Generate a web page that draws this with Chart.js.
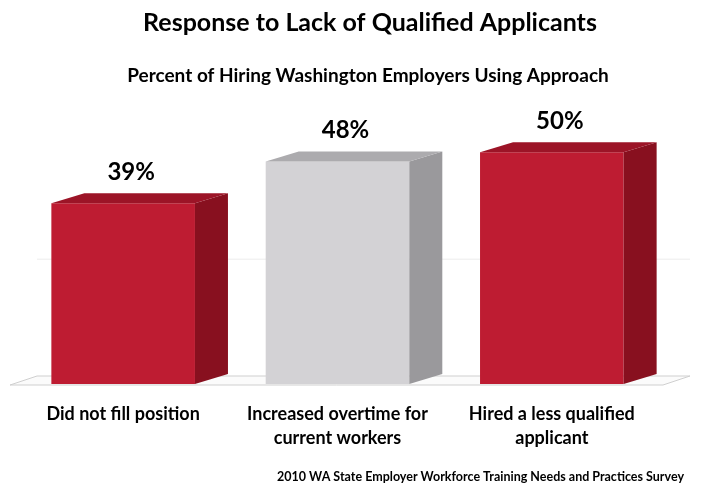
<!DOCTYPE html>
<html>
<head>
<meta charset="utf-8">
<script src="https://cdn.jsdelivr.net/npm/chart.js@4"></script>
<style>
  body { margin: 0; background: #fff; }
  #wrap { width: 702px; height: 485px; }
</style>
</head>
<body>
<div id="wrap"><canvas id="grafico"></canvas></div>
<script>
const categorias = [
    'Did not fill position',
    ['Increased overtime for', 'current workers'],
    ['Hired a less qualified', 'applicant']
];
const porcentajes = [39, 48, 50];
const coloresFrente = ['#be1c32', '#d3d2d5', '#be1c32'];
const coloresLado = ['#88101f', '#9a999c', '#88101f'];
const coloresTapa = ['#9c1427', '#acabae', '#9c1427'];
const titulo = 'Response to Lack of Qualified Applicants';
const subtitulo = 'Percent of Hiring Washington Employers Using Approach';
const fuenteNota = '2010 WA State Employer Workforce Training Needs and Practices Survey';
const fuente = 'Lato, "Open Sans", sans-serif';

// profundidad del efecto 3D
const DX = 33, DY = -10;

const barras3d = {
    id: 'barras3d',
    beforeDatasetsDraw(chart) {
        const ctx = chart.ctx;
        const area = chart.chartArea;
        const yEje = chart.scales.y;
        ctx.save();
        // piso
        ctx.beginPath();
        ctx.moveTo(area.left - 6, area.bottom + 1);
        ctx.lineTo(area.right + 4, area.bottom + 1);
        ctx.lineTo(area.right + 31, area.bottom - 8);
        ctx.lineTo(area.left + 21, area.bottom - 8);
        ctx.closePath();
        ctx.fillStyle = '#fbfbfb';
        ctx.fill();
        ctx.strokeStyle = '#cfcfcf';
        ctx.lineWidth = 1;
        ctx.stroke();
        // linea de cuadricula tenue en la pared del fondo
        const yg = yEje.getPixelForValue(25) + DY + 1;
        ctx.beginPath();
        ctx.moveTo(area.left + 21, yg);
        ctx.lineTo(area.right + 31, yg);
        ctx.strokeStyle = '#ececec';
        ctx.stroke();
        ctx.restore();
    },
    afterDatasetsDraw(chart) {
        const ctx = chart.ctx;
        const meta = chart.getDatasetMeta(0);
        ctx.save();
        meta.data.forEach(function(barra, i) {
            const izq = barra.x - barra.width / 2;
            const der = barra.x + barra.width / 2;
            const arriba = barra.y;
            const base = barra.base;
            // lado derecho
            ctx.beginPath();
            ctx.moveTo(der, arriba);
            ctx.lineTo(der + DX, arriba + DY);
            ctx.lineTo(der + DX, base + DY);
            ctx.lineTo(der, base);
            ctx.closePath();
            ctx.fillStyle = coloresLado[i];
            ctx.fill();
            // tapa
            ctx.beginPath();
            ctx.moveTo(izq, arriba);
            ctx.lineTo(izq + DX, arriba + DY);
            ctx.lineTo(der + DX, arriba + DY);
            ctx.lineTo(der, arriba);
            ctx.closePath();
            ctx.fillStyle = coloresTapa[i];
            ctx.fill();
            // etiqueta del valor
            ctx.fillStyle = '#000';
            ctx.font = 'bold 24px ' + fuente;
            ctx.textAlign = 'center';
            ctx.textBaseline = 'middle';
            ctx.fillText(porcentajes[i] + '%', barra.x + 8, arriba - 31);
        });
        ctx.restore();
    },
    afterDraw(chart) {
        const ctx = chart.ctx;
        ctx.save();
        ctx.fillStyle = '#000';
        ctx.textBaseline = 'middle';
        ctx.textAlign = 'center';
        ctx.font = 'bold 25px ' + fuente;
        ctx.fillText(titulo, 370, 23);
        ctx.font = 'bold 19px ' + fuente;
        ctx.fillText(subtitulo, 368, 76);
        ctx.textAlign = 'right';
        ctx.font = 'bold 12.5px ' + fuente;
        ctx.fillText(fuenteNota, 684, 477);
        ctx.restore();
    }
};

new Chart(document.getElementById('grafico'), {
    type: 'bar',
    data: {
        labels: categorias,
        datasets: [{
            data: porcentajes,
            backgroundColor: coloresFrente,
            borderWidth: 0,
            barPercentage: 0.67,
            categoryPercentage: 1
        }]
    },
    options: {
        responsive: true,
        maintainAspectRatio: false,
        animation: false,
        layout: { padding: { left: 16, right: 43, bottom: 17, top: 106 } },
        plugins: {
            legend: { display: false },
            tooltip: { enabled: false },
            title: { display: false },
            subtitle: { display: false }
        },
        scales: {
            x: {
                grid: { display: false, drawTicks: false },
                border: { display: false },
                ticks: {
                    color: '#000',
                    padding: 18,
                    maxRotation: 0,
                    font: { family: fuente, size: 18, weight: 'bold', lineHeight: 1.333 }
                }
            },
            y: {
                display: false,
                min: 0,
                max: 60
            }
        }
    },
    plugins: [barras3d]
});
</script>
</body>
</html>
